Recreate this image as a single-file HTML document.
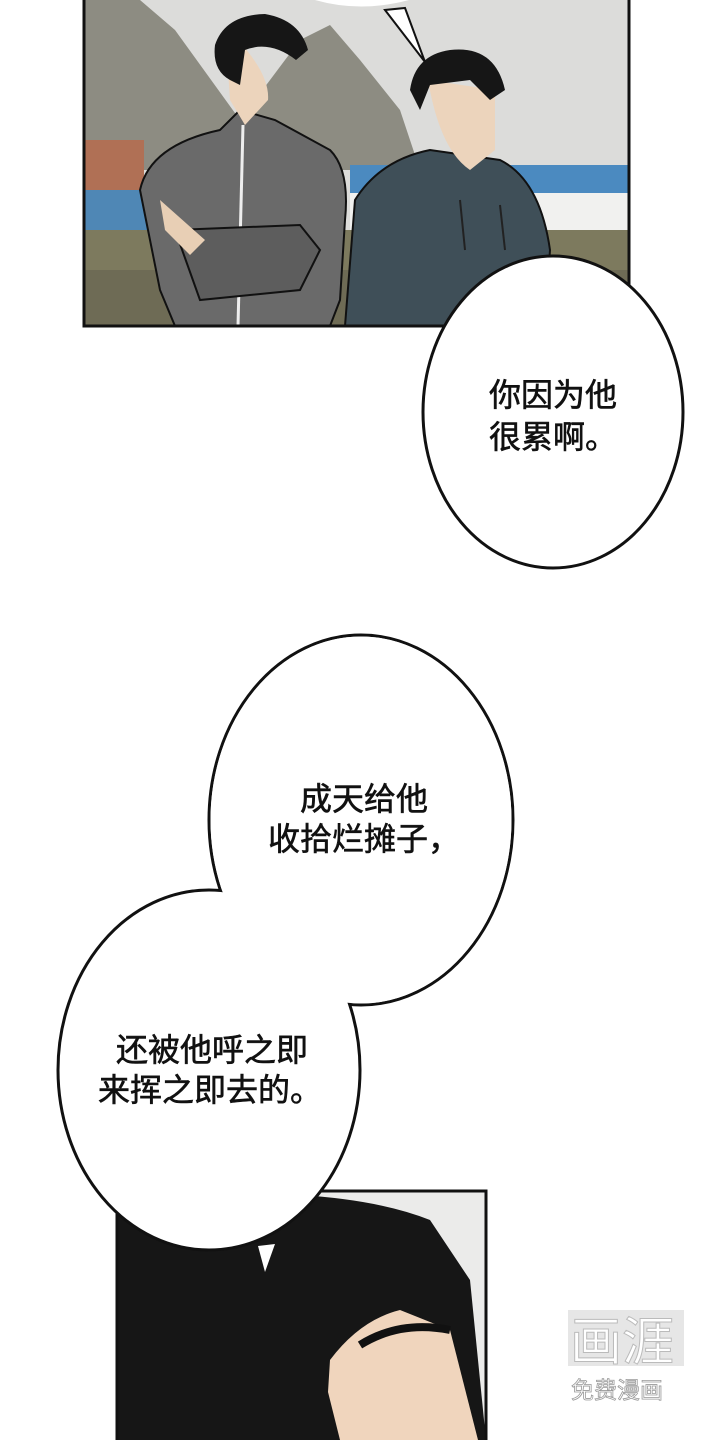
<!DOCTYPE html>
<html><head><meta charset="utf-8"><style>
html,body{margin:0;padding:0;background:#fff;width:720px;height:1440px;overflow:hidden}
svg{display:block}
text{font-family:"Liberation Sans","Noto Sans CJK SC",sans-serif;font-size:32px;fill:#111;stroke:#111;stroke-width:0.6}
</style></head><body>
<svg width="720" height="1440" viewBox="0 0 720 1440" xmlns="http://www.w3.org/2000/svg">
<defs>
<clipPath id="p1"><rect x="84" y="0" width="545" height="326"/></clipPath>
<clipPath id="p2"><rect x="117" y="1191" width="369" height="249"/></clipPath>
</defs>
<g clip-path="url(#p1)">
<rect x="84" y="0" width="545" height="326" fill="#dcdcda"/>
<path d="M84 0 L140 0 L175 30 L240 120 L300 40 L330 25 L360 60 L400 110 L420 170 L84 170Z" fill="#8d8c82"/>
<rect x="84" y="140" width="60" height="50" fill="#b07055"/>
<rect x="84" y="190" width="70" height="40" fill="#4f87b5"/>
<rect x="350" y="165" width="279" height="28" fill="#4b8ac0"/>
<rect x="350" y="193" width="279" height="52" fill="#f1f1ef"/>
<rect x="84" y="230" width="545" height="96" fill="#7d7a5e"/>
<rect x="84" y="270" width="545" height="56" fill="#6e6b55"/>
<path d="M140 190 Q150 145 220 130 L240 110 L275 120 L330 150 Q350 170 345 220 L340 300 L330 326 L175 326 L160 290 Z" fill="#6a6a6a" stroke="#111" stroke-width="2"/>
<line x1="243" y1="125" x2="238" y2="326" stroke="#eee" stroke-width="3"/>
<path d="M175 230 L300 225 L320 250 L300 290 L200 300 Z" fill="#5d5d5d" stroke="#111" stroke-width="2"/>
<path d="M160 200 L205 240 L190 255 L165 230Z" fill="#e8cfb5"/>
<path d="M238 40 Q270 75 268 100 L245 125 L230 100 L228 70Z" fill="#ecd4bc"/>
<path d="M215 45 Q225 15 265 14 Q300 20 308 50 L296 60 Q270 40 245 50 L240 85 L230 80 Q212 70 215 45Z" fill="#161616"/>
<path d="M345 326 L355 200 Q380 160 430 150 L500 160 Q540 180 550 250 L545 326Z" fill="#3f4f58" stroke="#111" stroke-width="2"/>
<path d="M428 80 Q440 150 470 170 L495 150 L495 90Z" fill="#ecd4bc"/>
<path d="M410 90 Q415 55 450 50 Q495 45 505 90 L490 100 L470 80 L430 85 L420 110Z" fill="#161616"/>
<line x1="460" y1="200" x2="465" y2="250" stroke="#222" stroke-width="2"/>
<line x1="500" y1="205" x2="505" y2="250" stroke="#222" stroke-width="2"/>
</g>
<rect x="84" y="-3" width="545" height="329" fill="none" stroke="#111" stroke-width="3"/>
<path d="M290 -20 Q360 25 430 -20" fill="#fff" stroke="#111" stroke-width="3"/>
<path d="M385 10 L425 62 L405 8Z" fill="#fff" stroke="#111" stroke-width="2"/>
<path d="M300 -5 Q360 18 425 -5" fill="#fff"/>
<g clip-path="url(#p2)">
<rect x="117" y="1191" width="369" height="249" fill="#ebebea"/>
<path d="M117 1210 Q200 1180 300 1195 Q380 1200 430 1220 L470 1280 L475 1330 L486 1440 L117 1440Z" fill="#161616"/>
<path d="M325 1440 L330 1360 Q360 1320 400 1310 L450 1330 L478 1440Z" fill="#f0d5bd"/>
<path d="M360 1345 Q400 1320 450 1330" stroke="#111" stroke-width="8" fill="none"/>
<path d="M300 1440 L320 1360 L340 1440Z" fill="#161616"/>
</g>
<rect x="117" y="1191" width="369" height="260" fill="none" stroke="#111" stroke-width="3"/>
<ellipse cx="553" cy="412" rx="130" ry="156" fill="#fff" stroke="#111" stroke-width="3"/>
<text x="489" y="406">你因为他</text>
<text x="489" y="448">很累啊。</text>
<ellipse cx="361" cy="820" rx="152" ry="185" fill="#fff" stroke="#111" stroke-width="3"/>
<ellipse cx="209" cy="1070" rx="151" ry="180" fill="#fff" stroke="#111" stroke-width="3"/>
<ellipse cx="361" cy="820" rx="150.5" ry="183.5" fill="#fff"/>
<path d="M258 1246 L265 1272 L275 1244Z" fill="#fff"/>
<text x="300" y="810">成天给他</text>
<text x="268" y="850">收拾烂摊子，</text>
<text x="116" y="1061">还被他呼之即</text>
<text x="98" y="1101">来挥之即去的。</text>
<rect x="568" y="1310" width="116" height="56" fill="#e6e6e6"/>
<text x="570" y="1360" style="font-size:52px;fill:#fff;stroke:#bbb;stroke-width:1">画涯</text>
<text x="571" y="1398" style="font-size:23px;fill:#fff;stroke:#999;stroke-width:0.8">免费漫画</text>
</svg>
</body></html>
